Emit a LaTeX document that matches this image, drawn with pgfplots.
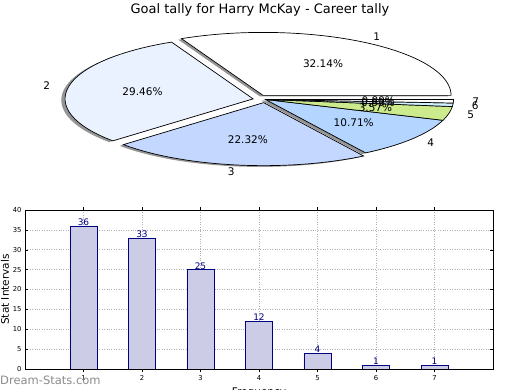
\documentclass[border=0pt]{standalone}
\usepackage{fontspec}
\setmainfont{DejaVu Sans}
\usepackage{pgfplots}
\pgfplotsset{compat=1.18}

\definecolor{cA}{HTML}{FFFFFF}
\definecolor{cB}{HTML}{EBF2FF}
\definecolor{cC}{HTML}{C3D7FF}
\definecolor{cD}{HTML}{B3D5FF}
\definecolor{cE}{HTML}{CCEB8C}
\definecolor{cF}{HTML}{CFF1FF}
\definecolor{cG}{HTML}{FFFFFF}
\definecolor{barfill}{HTML}{CCCCE6}
\definecolor{navy}{HTML}{000080}

% goal tally values (slices 1..7)
\def\vA{36}\def\vB{33}\def\vC{25}\def\vD{12}\def\vE{4}\def\vF{1}\def\vG{1}
\pgfmathsetmacro\tot{\vA+\vB+\vC+\vD+\vE+\vF+\vG}
\pgfmathsetmacro\aA{0}
\pgfmathsetmacro\aB{\aA+360*\vA/\tot}
\pgfmathsetmacro\aC{\aB+360*\vB/\tot}
\pgfmathsetmacro\aD{\aC+360*\vC/\tot}
\pgfmathsetmacro\aE{\aD+360*\vD/\tot}
\pgfmathsetmacro\aF{\aE+360*\vE/\tot}
\pgfmathsetmacro\aG{\aF+360*\vF/\tot}
\pgfmathsetmacro\aH{\aG+360*\vG/\tot}

\newcommand\pielabfont{\fontsize{10.5}{12}\selectfont}

% #1 start angle, #2 end angle, #3 dx, #4 dy, #5 style
\newcommand\wedgeplot[5]{%
  \edef\temp{\noexpand\addplot[#5,domain=#1:#2,samples=90] ({#3+cos(x)},{#4+sin(x)}) -- (axis cs:#3,#4) -- cycle;}\temp}

% #1 start, #2 end, #3 dx, #4 dy, #5 label, #6 percent
\newcommand\pielabel[6]{%
  \pgfmathsetmacro\pmid{(#1+#2)/2}%
  \pgfmathsetmacro\lx{#3+1.1*cos(\pmid)}%
  \pgfmathsetmacro\ly{#4+1.1*sin(\pmid)}%
  \pgfmathsetmacro\qx{#3+0.6*cos(\pmid)}%
  \pgfmathsetmacro\qy{#4+0.6*sin(\pmid)}%
  \pgfmathsetmacro\cc{cos(\pmid)}%
  \ifdim\cc pt>0pt \def\an{west}\else\def\an{east}\fi
  \edef\temp{\noexpand\node[anchor=\an,font=\noexpand\pielabfont,inner sep=0pt] at (axis cs:\lx,\ly) {#5};%
    \noexpand\node[font=\noexpand\pielabfont,inner sep=0pt] at (axis cs:\qx,\qy) {#6};}\temp}

\begin{document}
\begin{tikzpicture}
\useasboundingbox (0pt,0pt) rectangle (520pt,390pt);

\node[font=\fontsize{13}{15}\selectfont] at (260pt,380pt) {Goal tally for Harry McKay - Career tally};

% ---------------- pie ----------------
\begin{axis}[
  at={(265.5pt,290.5pt)}, anchor=center,
  scale only axis, width=376pt, height=126pt,
  xmin=-1, xmax=1, ymin=-1, ymax=1,
  hide axis, clip=false,
]
% shadows
\wedgeplot{\aA}{\aB}{-0.03}{0.048}{fill=black!42,draw=none}
\wedgeplot{\aB}{\aC}{-0.086}{-0.01}{fill=black!42,draw=none}
\wedgeplot{\aC}{\aD}{-0.03}{-0.07}{fill=black!42,draw=none}
\wedgeplot{\aD}{\aE}{-0.02}{-0.02}{fill=black!42,draw=none}
\wedgeplot{\aE}{\aF}{-0.02}{-0.02}{fill=black!42,draw=none}
\wedgeplot{\aF}{\aG}{-0.02}{-0.02}{fill=black!42,draw=none}
\wedgeplot{\aG}{\aH}{-0.02}{-0.02}{fill=black!42,draw=none}
% wedges
\wedgeplot{\aA}{\aB}{-0.013}{0.065}{fill=cA,draw=black,line width=0.7pt}
\wedgeplot{\aB}{\aC}{-0.066}{0.01}{fill=cB,draw=black,line width=0.7pt}
\wedgeplot{\aC}{\aD}{-0.01}{-0.05}{fill=cC,draw=black,line width=0.7pt}
\wedgeplot{\aD}{\aE}{0}{0}{fill=cD,draw=black,line width=0.7pt}
\wedgeplot{\aE}{\aF}{0}{0}{fill=cE,draw=black,line width=0.7pt}
\wedgeplot{\aF}{\aG}{0}{0}{fill=cF,draw=black,line width=0.7pt}
\wedgeplot{\aG}{\aH}{0}{0}{fill=cG,draw=black,line width=0.7pt}
% labels
\pielabel{\aA}{\aB}{-0.013}{0.065}{1}{32.14\%}
\pielabel{\aB}{\aC}{-0.066}{0.01}{2}{29.46\%}
\pielabel{\aC}{\aD}{-0.01}{-0.05}{3}{22.32\%}
\pielabel{\aD}{\aE}{0}{0}{4}{10.71\%}
\pielabel{\aE}{\aF}{0}{0}{5}{3.57\%}
\pielabel{\aF}{\aG}{0}{0}{6}{0.89\%}
\pielabel{\aG}{\aH}{0}{0}{7}{0.89\%}
\end{axis}

% ---------------- bars ----------------
\begin{axis}[
  at={(25pt,21pt)}, anchor=south west,
  scale only axis, width=468pt, height=159pt,
  xmin=0, xmax=8, ymin=0, ymax=40,
  xtick={1,...,7}, ytick={0,5,...,40},
  grid=major, grid style={dash pattern=on 0.8pt off 1.6pt, black!30, line width=0.7pt},
  tick align=inside, major tick length=3pt,
  tick style={black, line width=0.4pt},
  axis line style={line width=0.7pt},
  ticklabel style={font=\fontsize{6.8}{7}\selectfont},
  /pgf/number format/assume math mode=true,
  ylabel={Stat Intervals}, xlabel={Frequency},
  label style={font=\fontsize{10.5}{12}\selectfont},
  ylabel style={at={(axis description cs:-0.043,0.5)}, anchor=center},
  xlabel style={at={(axis description cs:0.5,-0.094)}, anchor=north},
  ybar, bar width=27pt,
  nodes near coords,
  nodes near coords style={font=\fontsize{9}{10}\selectfont, text=navy, anchor=base, inner sep=0pt, yshift=0.5pt},
]
\addplot[fill=barfill, draw=navy, line width=0.6pt] coordinates {(1,36) (2,33) (3,25) (4,12) (5,4) (6,1) (7,1)};
\end{axis}

\node[anchor=west, text=black!45, font=\fontsize{11.5}{13}\selectfont, inner sep=0pt] at (0pt,10pt) {Dream-Stats.com};
\end{tikzpicture}
\end{document}
